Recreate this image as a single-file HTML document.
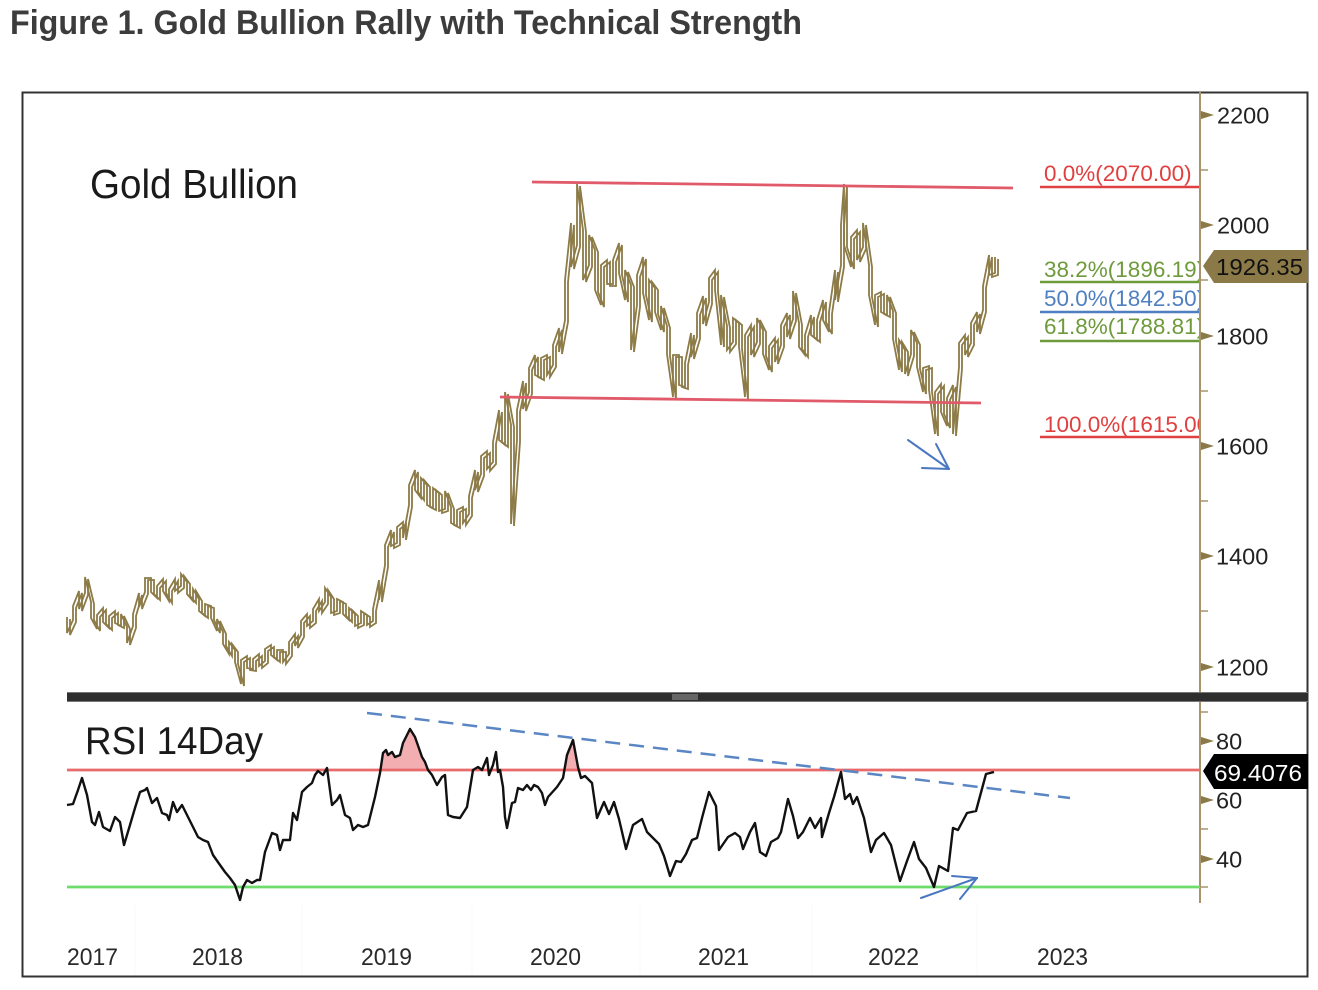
<!DOCTYPE html>
<html>
<head>
<meta charset="utf-8">
<style>
html,body{margin:0;padding:0;background:#fff;}
svg{display:block;}
text{font-family:"Liberation Sans",sans-serif;}
</style>
</head>
<body>
<svg width="1318" height="990" viewBox="0 0 1318 990" xmlns="http://www.w3.org/2000/svg">
<defs>
<clipPath id="fibclip"><rect x="1030" y="140" width="169" height="310"/></clipPath>
<polyline id="px" fill="none" stroke="#8c7b47" stroke-width="1.8" stroke-linejoin="miter" points="
67,617 67,633 73,620 73,606 79,591 79,609 85,593 85,577 91,602 91,618 97,629 97,615 103,608 103,622 109,628 109,616 115,611 115,623 121,626 121,614 127,627 127,643 133,626 133,614 139,593 139,607 145,592 145,578 151,578 151,592 157,598 157,586 163,579 163,591 169,601 169,589 175,579 175,591 181,586 181,574 187,582 187,594 193,601 193,589 199,599 199,611 205,616 205,604 211,606 211,618 217,631 217,619 223,632 223,644 229,654 229,642 235,650 235,662 241,684 241,660 247,656 247,668 253,669 253,659 259,654 259,666 265,661 265,649 271,645 271,655 277,660 277,650 283,650 283,662 289,654 289,642 295,634 295,646 301,635 301,621 307,614 307,626 313,621 313,609 319,599 319,611 325,602 325,588 331,597 331,613 337,611 337,599 343,602 343,614 349,620 349,608 355,614 355,626 361,623 361,611 367,615 367,625 373,621 373,609 379,580 379,600 385,565 385,545 391,530 391,546 397,543 397,527 403,522 403,538 409,505 409,485 415,470 415,490 421,498 421,478 427,485 427,505 433,508 433,488 439,493 439,511 445,509 445,491 451,507 451,523 457,526 457,510 463,507 463,523 469,514 469,496 475,470 475,490 481,474 481,456 487,451 487,469 493,462 493,442 499,410 499,440 505,445 505,392 511,425 511,524 517,440 517,410 523,381 523,409 529,392 529,368 535,355 535,375 541,378 541,358 547,355 547,375 553,365 553,345 559,328 559,352 565,320 565,280 571,223 571,267 577,245 577,184 583,230 583,280 589,265 589,235 595,250 595,290 601,305 601,265 607,260 607,284 613,284 613,260 619,243 619,273 625,300 625,270 631,285 631,350 637,305 637,275 643,257 643,293 649,320 649,280 655,288 655,312 661,330 661,306 667,326 667,354 673,397 673,355 679,355 679,385 685,387 685,363 691,333 691,357 697,337 697,313 703,296 703,324 709,302 709,278 715,270 715,290 721,345 721,295 727,326 727,350 733,342 733,318 739,323 739,347 745,397 745,335 751,325 751,355 757,342 757,318 763,330 763,354 769,370 769,346 775,338 775,362 781,345 781,325 787,313 787,337 793,319 793,291 799,323 799,347 805,355 805,335 811,315 811,335 817,340 817,320 823,300 823,320 829,332 829,312 835,270 835,300 841,265 841,225 844,184 844,245 851,267 851,237 857,230 857,260 863,247 863,223 869,265 869,295 875,325 875,295 881,292 881,312 887,315 887,295 893,311 893,339 899,370 899,340 905,350 905,374 911,354 911,330 917,343 917,367 923,392 923,368 929,366 929,390 935,434 935,392 941,384 941,412 947,426 947,398 953,385 953,434 959,367 959,343 965,335 965,355 971,343 971,323 977,312 977,332 983,310 983,286 989,255 989,275 995,273 995,257"/>
</defs>
<rect x="0" y="0" width="1318" height="990" fill="#fff"/>

<!-- Title -->
<text x="10" y="34" font-size="34" font-weight="bold" fill="#3c3c3c" textLength="792" lengthAdjust="spacingAndGlyphs">Figure 1. Gold Bullion Rally with Technical Strength</text>

<!-- Outer frame -->
<rect x="22.5" y="92.5" width="1285" height="884" fill="none" stroke="#333" stroke-width="2"/>

<!-- Panel titles -->
<text x="90" y="198" font-size="41" fill="#1a1a1a" textLength="208" lengthAdjust="spacingAndGlyphs">Gold Bullion</text>
<text x="85" y="754" font-size="39" fill="#1a1a1a" textLength="178" lengthAdjust="spacingAndGlyphs">RSI 14Day</text>

<!-- Price bars -->
<use href="#px"/>
<use href="#px" transform="translate(3,2)"/>

<!-- Channel lines -->
<line x1="532" y1="182" x2="1013" y2="188" stroke="#e05a6a" stroke-width="2.8"/>
<line x1="500" y1="397" x2="981" y2="403" stroke="#e05a6a" stroke-width="2.8"/>

<!-- Price arrow -->
<g stroke="#4a78c0" stroke-width="2" fill="none" stroke-linecap="round">
<line x1="908" y1="440" x2="949" y2="469"/>
<line x1="949" y1="469" x2="922" y2="468"/>
<line x1="949" y1="469" x2="936" y2="444"/>
</g>

<!-- Fib labels -->
<g clip-path="url(#fibclip)" font-size="22.5">
<text x="1044" y="181" fill="#e04040">0.0%(2070.00)</text>
<text x="1044" y="277" fill="#6e9a3c">38.2%(1896.19)</text>
<text x="1044" y="306" fill="#4f7fc0">50.0%(1842.50)</text>
<text x="1044" y="334" fill="#6e9a3c">61.8%(1788.81)</text>
<text x="1044" y="432" fill="#e04040">100.0%(1615.00)</text>
</g>
<line x1="1040" y1="187" x2="1200" y2="187" stroke="#e04040" stroke-width="2.4"/>
<line x1="1040" y1="282" x2="1200" y2="282" stroke="#6e9a3c" stroke-width="2.4"/>
<line x1="1040" y1="312" x2="1200" y2="312" stroke="#4f7fc0" stroke-width="2.4"/>
<line x1="1040" y1="341" x2="1200" y2="341" stroke="#6e9a3c" stroke-width="2.4"/>
<line x1="1040" y1="437" x2="1200" y2="437" stroke="#e04040" stroke-width="2.4"/>

<!-- Right axis line -->
<line x1="1200" y1="92" x2="1200" y2="903" stroke="#a8946a" stroke-width="2"/>

<!-- Price axis ticks -->
<g fill="#8b7a48">
<polygon points="1201,111 1214,115 1201,119"/>
<polygon points="1201,221 1214,225 1201,229"/>
<polygon points="1201,332 1214,336 1201,340"/>
<polygon points="1201,442 1214,446 1201,450"/>
<polygon points="1201,552 1214,556 1201,560"/>
<polygon points="1201,663 1214,667 1201,671"/>
</g>
<g stroke="#a8946a" stroke-width="1.5">
<line x1="1201" y1="170" x2="1208" y2="170"/>
<line x1="1201" y1="280" x2="1208" y2="280"/>
<line x1="1201" y1="391" x2="1208" y2="391"/>
<line x1="1201" y1="501" x2="1208" y2="501"/>
<line x1="1201" y1="611" x2="1208" y2="611"/>
</g>
<g font-size="23.5" fill="#222">
<text x="1217" y="123.5">2200</text>
<text x="1217" y="233.5">2000</text>
<text x="1216" y="344.5">1800</text>
<text x="1216" y="454.5">1600</text>
<text x="1216" y="564.5">1400</text>
<text x="1216" y="675.5">1200</text>
</g>

<!-- Price tag -->
<polygon points="1203,266 1214,250 1308,250 1308,283 1214,283" fill="#8b7a48"/>
<text x="1216" y="275" font-size="23.5" fill="#111" textLength="87" lengthAdjust="spacingAndGlyphs">1926.35</text>

<!-- Separator band -->
<rect x="67" y="692" width="1241" height="10" fill="#2e2e2e"/>
<line x1="67" y1="692.5" x2="1308" y2="692.5" stroke="#777" stroke-width="1"/>
<line x1="67" y1="701.5" x2="1308" y2="701.5" stroke="#777" stroke-width="1"/>
<rect x="672" y="694" width="26" height="6" fill="#666"/>

<!-- RSI overbought fills -->
<g fill="#f2aeb0">
<polygon points="379.5,770 380,773 383,753 386,750 388,755 392,752 395,757 400,755 403,743 410,729 415,737 422,757 425,762 428,770"/>
<polygon points="565.5,770 567,755 573,740 578,767 578.8,770"/>
</g>

<!-- RSI reference lines -->
<line x1="67" y1="770" x2="1200" y2="770" stroke="#e86a6a" stroke-width="2.8"/>
<line x1="67" y1="887" x2="1200" y2="887" stroke="#6ddc6d" stroke-width="2.8"/>

<!-- RSI line -->
<polyline fill="none" stroke="#111" stroke-width="2.4" stroke-linejoin="round" points="
67,805 73,804 78,790 82,778 87,795 92,822 95,825 99,812 103,827 110,831 115,817 120,822 124,845 130,825 135,808 140,792 145,790 147,788 152,803 157,798 162,813 167,815 169,820 173,802 177,812 182,805 188,817 193,827 198,837 203,840 208,842 213,855 220,865 225,872 230,878 235,885 240,900 243,887 247,880 252,883 257,880 260,880 265,852 272,833 277,835 280,850 283,840 290,840 293,813 297,820 302,792 307,787 312,783 315,775 318,771 323,775 327,768 332,805 337,800 340,795 345,815 350,818 353,830 358,825 363,827 368,825 375,797 380,773 383,753 386,750 388,755 392,752 395,757 400,755 403,743 410,729 415,737 422,757 425,762 428,770 432,775 437,785 442,777 445,775 448,815 453,817 460,818 467,807 473,770 478,767 482,770 487,758 489,775 493,765 496,752 498,772 500,770 503,787 505,817 507,828 512,803 515,802 518,788 523,790 527,785 531,790 534,785 538,787 542,793 545,805 548,797 557,787 563,778 567,755 573,740 578,767 581,778 585,776 592,783 597,818 604,802 609,814 614,802 619,819 626,849 633,825 642,819 647,832 652,837 659,844 664,856 670,876 676,861 681,862 686,854 692,840 697,838 702,818 709,792 716,806 719,850 728,837 735,833 740,837 743,849 750,832 755,823 760,852 766,856 771,842 778,838 781,832 788,799 793,816 798,838 803,832 810,818 815,828 821,818 822,837 829,813 834,797 841,772 845,799 850,794 853,804 857,797 864,818 871,852 876,840 884,833 891,845 900,881 907,861 914,842 919,859 926,868 934,887 939,866 948,871 953,828 958,830 967,813 976,811 986,774 994,772"/>

<!-- RSI dashed trend line -->
<line x1="367" y1="713" x2="1070" y2="798" stroke="#5b86c4" stroke-width="2.5" stroke-dasharray="15 9"/>

<!-- RSI arrow -->
<g stroke="#4a78c0" stroke-width="2" fill="none" stroke-linecap="round">
<line x1="921" y1="898" x2="977" y2="878"/>
<line x1="977" y1="878" x2="952" y2="876"/>
<line x1="977" y1="878" x2="960" y2="899"/>
</g>

<!-- RSI axis ticks -->
<g fill="#8b7a48">
<polygon points="1201,737 1214,741 1201,745"/>
<polygon points="1201,796 1214,800 1201,804"/>
<polygon points="1201,855 1214,859 1201,863"/>
</g>
<g stroke="#a8946a" stroke-width="1.5">
<line x1="1201" y1="712" x2="1208" y2="712"/>
<line x1="1201" y1="829" x2="1208" y2="829"/>
<line x1="1201" y1="887" x2="1208" y2="887"/>
</g>
<g font-size="23.5" fill="#222">
<text x="1216" y="749.5">80</text>
<text x="1216" y="808.5">60</text>
<text x="1216" y="867.5">40</text>
</g>

<!-- RSI tag -->
<polygon points="1203,771 1214,754 1308,754 1308,789 1214,789" fill="#000"/>
<text x="1214" y="781" font-size="23.5" fill="#fff" textLength="88" lengthAdjust="spacingAndGlyphs">69.4076</text>

<!-- faint year grid lines -->
<g stroke="#f8f8f8" stroke-width="1">
<line x1="135" y1="905" x2="135" y2="975"/>
<line x1="302" y1="905" x2="302" y2="975"/>
<line x1="472" y1="905" x2="472" y2="975"/>
<line x1="640" y1="905" x2="640" y2="975"/>
<line x1="812" y1="905" x2="812" y2="975"/>
<line x1="977" y1="905" x2="977" y2="975"/>
</g>

<!-- X axis labels -->
<g font-size="24" fill="#2a2a2a">
<text x="67" y="965" textLength="51" lengthAdjust="spacingAndGlyphs">2017</text>
<text x="192" y="965" textLength="51" lengthAdjust="spacingAndGlyphs">2018</text>
<text x="361" y="965" textLength="51" lengthAdjust="spacingAndGlyphs">2019</text>
<text x="530" y="965" textLength="51" lengthAdjust="spacingAndGlyphs">2020</text>
<text x="698" y="965" textLength="51" lengthAdjust="spacingAndGlyphs">2021</text>
<text x="868" y="965" textLength="51" lengthAdjust="spacingAndGlyphs">2022</text>
<text x="1037" y="965" textLength="51" lengthAdjust="spacingAndGlyphs">2023</text>
</g>
</svg>
</body>
</html>
